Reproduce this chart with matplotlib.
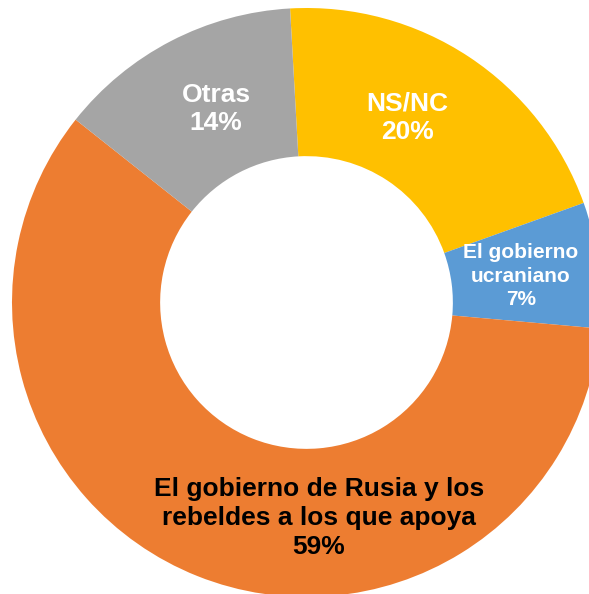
import matplotlib
matplotlib.use("Agg")
import matplotlib.pyplot as plt

categories = ["NS/NC", "El gobierno\nucraniano", "El gobierno de Rusia y los\nrebeldes a los que apoya", "Otras"]
values = [20.4, 6.9, 59.25, 13.45]
pct_labels = ["20%", "7%", "59%", "14%"]
colors = ["#FFC000", "#5B9BD5", "#ED7D31", "#A5A5A5"]
text_colors = ["white", "white", "black", "white"]
font_sizes = [19, 15, 19, 19]
line_spacings = [1.26, 1.33, 1.26, 1.26]

W, H = 589, 594
cx, cy, R = 306.5, 302.5, 294.5

fig = plt.figure(figsize=(W / 100, H / 100), dpi=100)
ax = fig.add_axes([0, 0, 1, 1])
ax.pie(values, colors=colors, startangle=93.2, counterclock=False, radius=1.0,
       wedgeprops=dict(width=0.503, linewidth=0, edgecolor="none"))
ax.set_xlim(-cx / R, (W - cx) / R)
ax.set_ylim(-(H - cy) / R, cy / R)
ax.set_aspect("auto")
ax.axis("off")

# label positions in pixel space (from top-left) converted to data coords
label_px = [(407, 118), (521, 276), (319, 518), (216, 109)]
for cat, pct, (px, py), tc, fs, ls in zip(categories, pct_labels, label_px, text_colors, font_sizes, line_spacings):
    ax.text((px - cx) / R, (cy - py) / R, f"{cat}\n{pct}", ha="center", va="center",
            multialignment="center", color=tc, fontsize=fs, fontweight="bold",
            family="Liberation Sans", linespacing=ls)

fig.savefig("out.png", dpi=100, facecolor="white")
